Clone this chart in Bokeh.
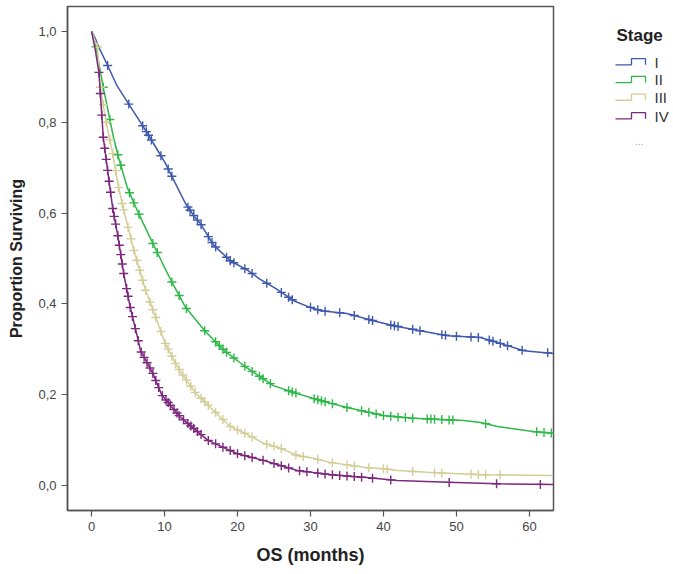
import numpy as np
from bokeh.plotting import figure
from bokeh.layouts import row
from bokeh.models import Range1d, FixedTicker, CustomJSTickFormatter
from bokeh.core.properties import value
from bokeh.embed import file_html
from bokeh.resources import INLINE

# ---------------- data ----------------
stages = ["I", "II", "III", "IV"]
colors = ["#3E58AC", "#2EB848", "#D3CE97", "#7C287D"]

t_I = [0, 0.5, 1.0, 2.2, 3.5, 5.1, 7.1, 8.8, 10.1, 11.5, 12.9, 14.2, 14.9, 16.7, 19.0, 21.4, 23.0,
       25.2, 27.7, 29.5, 31.4, 35.0, 38.6, 41.4, 45.0, 48.8, 53.3, 55.6, 59.2, 63.3]
s_I = [1.0, 0.985, 0.965, 0.925, 0.88, 0.84, 0.79, 0.745, 0.71, 0.665, 0.62, 0.59, 0.577, 0.53, 0.495,
       0.474, 0.455, 0.434, 0.407, 0.395, 0.385, 0.379, 0.363, 0.352, 0.341, 0.330, 0.326, 0.315, 0.297, 0.291]

t_II = [0, 0.5, 1.6, 3.0, 3.7, 4.9, 6.0, 7.0, 8.4, 9.7, 11.1, 12.9, 15.5, 18.2, 21.2, 24.9, 27.7,
        31.4, 35.0, 38.6, 40.0, 44.1, 51.0, 53.3, 55.6, 60.5, 63.3]
s_II = [1.0, 0.975, 0.877, 0.767, 0.722, 0.656, 0.615, 0.58, 0.533, 0.49, 0.445, 0.392, 0.341, 0.297,
        0.26, 0.22, 0.205, 0.187, 0.172, 0.159, 0.154, 0.148, 0.143, 0.139, 0.130, 0.119, 0.115]

t_III = [0, 0.8, 1.2, 2.0, 2.9, 3.7, 4.5, 5.8, 7.4, 8.8, 10.1, 11.5, 12.2, 14.3, 17.7, 19.0, 21.4,
         23.6, 25.9, 28.2, 30.4, 32.7, 37.3, 40.0, 42.0, 46.0, 53.3, 63.3]
s_III = [1.0, 0.965, 0.877, 0.80, 0.731, 0.656, 0.60, 0.518, 0.43, 0.37, 0.313, 0.269, 0.25, 0.203,
         0.15, 0.13, 0.112, 0.093, 0.082, 0.066, 0.060, 0.051, 0.040, 0.037, 0.033, 0.029, 0.024, 0.022]

t_IV = [0, 0.5, 1.0, 1.3, 1.6, 2.2, 2.9, 3.6, 4.4, 5.3, 6.4, 6.7, 8.4, 9.6, 12.2, 15.9, 19.0, 20.0,
        23.6, 25.9, 28.2, 32.7, 37.3, 41.9, 48.8, 55.6, 63.3]
s_IV = [1.0, 0.96, 0.91, 0.84, 0.767, 0.694, 0.61, 0.55, 0.467, 0.392, 0.319, 0.297, 0.247, 0.20, 0.15,
        0.10, 0.077, 0.07, 0.055, 0.044, 0.033, 0.024, 0.018, 0.011, 0.007, 0.004, 0.002]

# censoring times
c_I = [2.2, 5.1, 7.0, 7.5, 7.8, 8.2, 9.5, 10.5, 11.0, 13.2, 13.5, 14.0, 14.5, 15.0, 16.0, 16.5, 17.0,
       18.5, 19.0, 19.5, 21.0, 22.0, 24.0, 26.0, 27.0, 27.5, 30.0, 31.0, 32.0, 34.0, 36.0, 38.0, 38.5,
       41.0, 41.5, 42.0, 44.0, 45.0, 48.0, 48.5, 50.0, 52.0, 53.0, 54.5, 55.0, 56.0, 57.0, 59.0, 62.5]
c_II = [0.6, 1.6, 2.5, 3.6, 4.0, 5.2, 5.8, 6.5, 8.4, 9.0, 11.0, 12.0, 13.0, 15.5, 17.0, 17.5, 18.0,
        18.5, 19.5, 21.0, 22.0, 23.0, 23.5, 24.5, 27.0, 27.5, 28.0, 30.5, 31.0, 31.5, 32.0, 33.0, 35.0,
        37.0, 38.0, 39.0, 40.0, 41.0, 42.0, 43.0, 44.0, 46.0, 46.5, 47.0, 48.0, 49.0, 49.5, 54.0, 61.0,
        62.0, 63.0]
c_III = [0.8, 1.2, 1.6, 2.0, 2.5, 2.9, 3.3, 3.7, 4.2, 4.4, 5.0, 5.4, 5.8, 6.2, 6.6, 7.0, 7.4, 8.0,
         8.4, 8.8, 9.5, 10.1, 10.5, 11.0, 11.5, 12.0, 12.5, 13.0, 13.6, 14.2, 15.0, 15.5, 16.0, 17.0,
         18.0, 19.0, 20.0, 21.0, 22.0, 24.0, 25.0, 26.0, 28.0, 29.0, 31.0, 33.0, 35.0, 36.0, 38.0,
         40.0, 40.5, 44.0, 47.0, 48.0, 52.0, 53.0, 54.0, 56.0]
c_IV = [1.0, 1.2, 1.4, 1.6, 1.8, 2.0, 2.2, 2.4, 2.6, 2.9, 3.1, 3.3, 3.6, 3.8, 4.0, 4.2, 4.4, 4.8,
        5.0, 5.3, 5.6, 6.0, 6.4, 6.8, 7.2, 7.6, 8.0, 8.4, 8.8, 9.2, 9.7, 10.2, 10.5, 10.8, 11.3,
        11.7, 12.0, 12.6, 13.2, 13.6, 14.0, 14.5, 15.0, 16.0, 17.0, 18.0, 19.0, 20.0, 21.0, 22.0,
        23.5, 25.0, 26.0, 27.0, 28.5, 29.5, 31.0, 32.0, 33.0, 34.0, 35.0, 36.0, 37.0, 38.5, 41.0,
        49.0, 55.5, 61.5]

x_ticks = [0, 10, 20, 30, 40, 50, 60]
y_ticks = [0.0, 0.2, 0.4, 0.6, 0.8, 1.0]

series = [(t_I, s_I, c_I), (t_II, s_II, c_II), (t_III, s_III, c_III), (t_IV, s_IV, c_IV)]

FONT = "Liberation Sans"
H = 570
MW = 598

p = figure(width=MW, height=H, output_backend="svg", toolbar_location=None,
           x_range=Range1d(-3.3, 63.3), y_range=Range1d(-0.055, 1.055),
           min_border_left=67, min_border_right=45, min_border_top=6, min_border_bottom=60)
p.xgrid.visible = False
p.ygrid.visible = False
p.outline_line_color = "#555555"
p.outline_line_width = 1.5
p.background_fill_color = "white"

for (t, s, c), col in zip(series, colors):
    p.line(t, s, line_color=col, line_width=1.5)
    cy = np.interp(c, t, s)
    p.scatter(c, cy, marker="cross", size=9, line_color=col, line_width=1.4)

p.xaxis.ticker = FixedTicker(ticks=x_ticks)
p.yaxis.ticker = FixedTicker(ticks=y_ticks)
p.yaxis.formatter = CustomJSTickFormatter(code="return tick.toFixed(1).replace('.', ',');")
for ax in (p.xaxis, p.yaxis):
    ax.axis_line_color = "#555555"
    ax.axis_line_width = 1.5
    ax.major_tick_line_color = "#555555"
    ax.major_tick_line_width = 1.2
    ax.major_tick_out = 6
    ax.major_tick_in = 0
    ax.minor_tick_line_color = None
    ax.major_label_text_font = FONT
    ax.major_label_text_font_size = "13px"
    ax.major_label_text_color = "#444444"
    ax.major_label_standoff = 5
    ax.axis_label_text_font = FONT
    ax.axis_label_text_font_style = "bold"
    ax.axis_label_text_color = "#222222"
p.xaxis.axis_label = "OS (months)"
p.yaxis.axis_label = "Proportion Surviving"
p.xaxis.axis_label_text_font_size = "18px"
p.yaxis.axis_label_text_font_size = "16px"
p.xaxis.axis_label_standoff = 11
p.yaxis.axis_label_standoff = 10

# ---------------- legend panel ----------------
LW = 73
lg = figure(width=LW, height=H, output_backend="svg", toolbar_location=None,
            x_range=Range1d(0, LW), y_range=Range1d(H, 0),
            min_border=0, min_border_left=0, min_border_right=0, min_border_top=0, min_border_bottom=0)
lg.axis.visible = False
lg.xgrid.visible = False
lg.ygrid.visible = False
lg.outline_line_color = None

lg.text([18], [33], text=["Stage"], text_font=value(FONT), text_font_style="bold",
        text_font_size="17px", text_baseline="middle", text_color="#222222")
row_y = [63, 83, 103, 124]
for name, col, yy in zip(stages, colors, row_y):
    xs = [17, 33, 33, 47, 47]
    ys = [yy + 3, yy + 3, yy - 4, yy - 4, yy + 3]
    lg.line(xs, ys, line_color=col, line_width=1.3)
    lg.text([56], [yy], text=[name], text_font=value(FONT), text_font_size="15px",
            text_baseline="middle", text_color="#333333")
lg.text([36], [152], text=["..."], text_font=value(FONT), text_font_size="11px",
        text_baseline="middle", text_color="#aaaaaa")

layout = row(p, lg)
open("out.html", "w").write(file_html(layout, INLINE))
